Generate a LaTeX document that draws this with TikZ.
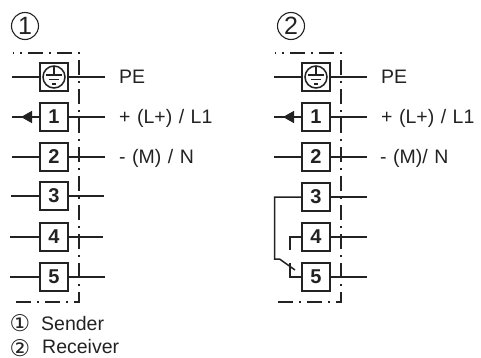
\documentclass[tikz,border=0pt]{standalone}
\usepackage{fontspec}
\setmainfont{Liberation Sans}
\newfontfamily\symfont{DejaVu Sans}
\usetikzlibrary{arrows.meta}

\definecolor{ink}{HTML}{222222}

\begin{document}
\begin{tikzpicture}[x=1pt, y=1pt]
        \tikzstyle{pin}=[rectangle, draw=ink, line width=1.6pt, fill=white, minimum width=28pt, minimum height=28pt, inner sep=0pt, text=ink, font=\fontsize{20}{22}\selectfont\bfseries];
        \tikzstyle{wire}=[-, draw=ink, line width=1.5pt];
        \tikzstyle{housing}=[draw=ink, line width=2pt, dash pattern=on 15pt off 6pt on 2pt off 6pt, dash phase=14pt];
        \tikzstyle{pinlabel}=[anchor=base west, inner sep=0pt, text=ink, font=\fontsize{19.5}{22}\selectfont, execute at begin node={\spaceskip=6.5pt\relax}];
        \tikzstyle{num}=[circle, draw=ink, line width=1.1pt, minimum size=27pt, inner sep=0pt, text=ink, font=\fontsize{25}{27}\selectfont];
        \tikzstyle{smallnum}=[inner sep=0pt, text=ink, font=\symfont\fontsize{23}{25}\selectfont];
        \tikzstyle{earth}=[circle, draw=ink, line width=1.5pt, minimum size=22pt, inner sep=0pt];

        \useasboundingbox (0, 0) rectangle (481, -358);

        % sender
        \node[num] (head1) at (25, -26) {1};

        \node[pin] (pe1) at (54, -77) {};
        \node[pin] (a1) at (54, -117) {1};
        \node[pin] (a2) at (54, -157) {2};
        \node[pin] (a3) at (54, -196) {3};
        \node[pin] (a4) at (54, -237) {4};
        \node[pin] (a5) at (54, -277) {5};

        \node[earth] (gnd1) at (54, -77) {};
        \coordinate (g1t) at (54, -66);
        \coordinate (g1m) at (54, -75);
        \coordinate (g1a) at (46, -75);
        \coordinate (g1b) at (62, -75);
        \coordinate (g1c) at (49, -79.5);
        \coordinate (g1d) at (59, -79.5);
        \coordinate (g1e) at (52, -84);
        \coordinate (g1f) at (56, -84);
        \draw[wire, line width=1.2pt] (g1t) -- (g1m);
        \draw[wire, line width=1.2pt] (g1a) -- (g1b);
        \draw[wire, line width=1.2pt] (g1c) -- (g1d);
        \draw[wire, line width=1.2pt] (g1e) -- (g1f);

        \coordinate (l0) at (12, -77);
        \coordinate (l1) at (12, -117);
        \coordinate (t1) at (21, -117);
        \coordinate (l2) at (12, -157);
        \coordinate (l3) at (11, -196);
        \coordinate (l4) at (10, -237);
        \coordinate (l5) at (10, -277);
        \coordinate (r0) at (105, -77);
        \coordinate (r1) at (105, -117);
        \coordinate (r2) at (105, -157);
        \coordinate (r3) at (104, -196);
        \coordinate (r4) at (103, -237);
        \coordinate (r5) at (105, -277);

        \draw[wire] (pe1) -- (l0);
        \draw[wire] (a1) -- (l1);
        \draw[wire] (a2) -- (l2);
        \draw[wire] (a3) -- (l3);
        \draw[wire] (a4) -- (l4);
        \draw[wire] (a5) -- (l5);
        \draw[wire] (pe1) -- (r0);
        \draw[wire] (a1) -- (r1);
        \draw[wire] (a2) -- (r2);
        \draw[wire] (a3) -- (r3);
        \draw[wire] (a4) -- (r4);
        \draw[wire] (a5) -- (r5);
        \draw[wire, -{Triangle[length=11pt, width=12pt]}] (a1) -- (t1);

        \coordinate (h1a) at (13, -53);
        \coordinate (h1b) at (79, -53);
        \coordinate (h1c) at (79, -302);
        \coordinate (h1d) at (13, -302);
        \draw[housing] (h1a) -- (h1b) -- (h1c) -- (h1d);

        \node[pinlabel] (pe1txt) at (119, -84) {PE};
        \node[pinlabel] (l1txt) at (119, -124) {+ (L+) / L1};
        \node[pinlabel] (n1txt) at (119, -164) {- (M) / N};

        % receiver
        \node[num] (head2) at (291, -26) {2};

        \node[pin] (pe2) at (316, -77) {};
        \node[pin] (b1) at (316, -117) {1};
        \node[pin] (b2) at (316, -157) {2};
        \node[pin] (b3) at (316, -197) {3};
        \node[pin] (b4) at (316, -237) {4};
        \node[pin] (b5) at (316, -277) {5};

        \node[earth] (gnd2) at (316, -77) {};
        \coordinate (g2t) at (316, -66);
        \coordinate (g2m) at (316, -75);
        \coordinate (g2a) at (308, -75);
        \coordinate (g2b) at (324, -75);
        \coordinate (g2c) at (311, -79.5);
        \coordinate (g2d) at (321, -79.5);
        \coordinate (g2e) at (314, -84);
        \coordinate (g2f) at (318, -84);
        \draw[wire, line width=1.2pt] (g2t) -- (g2m);
        \draw[wire, line width=1.2pt] (g2a) -- (g2b);
        \draw[wire, line width=1.2pt] (g2c) -- (g2d);
        \draw[wire, line width=1.2pt] (g2e) -- (g2f);

        \coordinate (m0) at (274, -77);
        \coordinate (m1) at (274, -117);
        \coordinate (t2) at (283, -117);
        \coordinate (m2) at (274, -157);
        \coordinate (s0) at (367, -77);
        \coordinate (s1) at (367, -117);
        \coordinate (s2) at (367, -157);
        \coordinate (s3) at (367, -197);
        \coordinate (s4) at (367, -237);
        \coordinate (s5) at (367, -277);

        \draw[wire] (pe2) -- (m0);
        \draw[wire] (b1) -- (m1);
        \draw[wire] (b2) -- (m2);
        \draw[wire] (pe2) -- (s0);
        \draw[wire] (b1) -- (s1);
        \draw[wire] (b2) -- (s2);
        \draw[wire] (b3) -- (s3);
        \draw[wire] (b4) -- (s4);
        \draw[wire] (b5) -- (s5);
        \draw[wire, -{Triangle[length=11pt, width=12pt]}] (b1) -- (t2);

        % jumper 3 to 5 and contact 4
        \coordinate (j1) at (274.7, -197);
        \coordinate (j2) at (274.7, -259);
        \coordinate (j3) at (279.5, -259);
        \coordinate (j4) at (295, -270);
        \coordinate (k1) at (290, -237);
        \coordinate (k2) at (290, -249.5);
        \coordinate (k3) at (290, -277);
        \coordinate (k4) at (290, -262.5);
        \draw[wire] (b3) -- (j1) -- (j2) -- (j3) -- (j4);
        \draw[wire] (b4) -- (k1) -- (k2);
        \draw[wire] (b5) -- (k3) -- (k4);

        \coordinate (h2a) at (275, -53);
        \coordinate (h2b) at (341, -53);
        \coordinate (h2c) at (341, -302);
        \coordinate (h2d) at (275, -302);
        \draw[housing] (h2a) -- (h2b) -- (h2c) -- (h2d);

        \node[pinlabel] (pe2txt) at (381, -84) {PE};
        \node[pinlabel] (l2txt) at (381, -124) {+ (L+) / L1};
        \node[pinlabel] (n2txt) at (380, -164) {- (M)/ N};

        % legend
        \node[smallnum] (leg1) at (20, -323) {①};
        \node[pinlabel] (leg1txt) at (41, -330) {Sender};
        \node[smallnum] (leg2) at (20, -348) {②};
        \node[pinlabel] (leg2txt) at (42, -353.5) {Receiver};
\end{tikzpicture}
\end{document}
